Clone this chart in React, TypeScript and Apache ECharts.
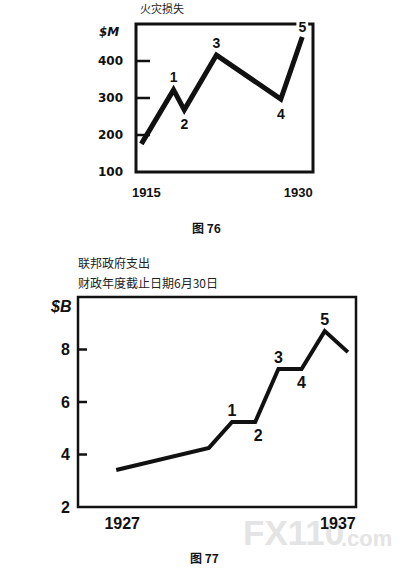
import React, { useEffect, useRef } from "react";
import * as echarts from "echarts";

// Chart 1: fire losses ($M)
const years1 = [1915, 1918, 1919, 1922, 1928, 1930];
const losses1 = [176, 322, 268, 416, 297, 465];
const waveLabels1 = ["", "1", "2", "3", "4", "5"];
const yLabelMax1 = 400;
const yInnerTicks1 = [200, 300, 400];
const xTicks1 = [1915, 1930];

// Chart 2: federal expenditures ($B)
const years2 = [1927, 1931, 1932, 1933, 1934, 1935, 1936, 1937];
const spend2 = [3.41, 4.25, 5.24, 5.24, 7.26, 7.26, 8.7, 7.9];
const waveLabels2 = ["", "", "1", "2", "3", "4", "5", ""];
const yLabelMax2 = 8;
const yInnerTicks2 = [4, 6, 8];
const xTicks2 = [1927, 1937];

const NUM_FONT = "Liberation Sans";
const CJK_FONT = "Noto Sans CJK SC";

const X1_MIN = 1914.5, X1_MAX = 1931;
const X2_MIN = 1925.35, X2_MAX = 1937.35;

function buildData(xs: number[], ys: number[], labels: string[], fontSize: number, chartNo: number) {
  return xs.map((x, i) => {
    const lab = labels[i];
    if (!lab) return { value: [x, ys[i]], label: { show: false } };
    const n = parseInt(lab, 10);
    const top = n % 2 === 1;
    const label: any = {
      show: true,
      formatter: lab,
      position: top ? "top" : "bottom",
      distance: top ? 5 : 7,
      fontSize,
      fontWeight: "bold",
      fontFamily: NUM_FONT,
      color: "#111",
      opacity: 1,
    };
    if (chartNo === 1 && n === 5) {
      label.backgroundColor = "#fff";
      label.padding = [0, 2, 0, 2];
      label.distance = 2;
    }
    if (chartNo === 2) {
      label.distance = top ? 3 : 5;
      if (n === 2) label.offset = [3, 0];
    }
    return { value: [x, ys[i]], label };
  });
}

const baseGraphic: any[] = [
  { type: "text", left: 140, top: 2, style: { text: "火灾损失", fontSize: 11, fontFamily: CJK_FONT, fill: "#222" } },
  { type: "text", left: 99, top: 26, style: { text: "$M", fontSize: 12, fontWeight: "bold", fontStyle: "italic", fontFamily: "DejaVu Sans", fill: "#111" } },
  { type: "text", left: 192, top: 221, style: { text: "图 76", fontSize: 12, fontWeight: "bold", fontFamily: CJK_FONT, fill: "#111" } },
  { type: "text", left: 78, top: 256, style: { text: "联邦政府支出", fontSize: 12, fontFamily: CJK_FONT, fill: "#222" } },
  { type: "text", left: 78, top: 276, style: { text: "财政年度截止日期6月30日", fontSize: 12, fontFamily: CJK_FONT, fill: "#222" } },
  { type: "text", left: 51, top: 298, style: { text: "$B", fontSize: 16, fontWeight: "bold", fontStyle: "italic", fontFamily: NUM_FONT, fill: "#111" } },
  { type: "text", left: 190, top: 551, style: { text: "图 77", fontSize: 12, fontWeight: "bold", fontFamily: CJK_FONT, fill: "#111" } },
  { type: "text", left: 243, top: 515, z: -1, style: { text: "FX110", fontSize: 35, fontWeight: 900, fontFamily: NUM_FONT, fill: "#e4e4e4" } },
  { type: "text", left: 341, top: 527, z: -1, style: { text: ".com", fontSize: 22, fontWeight: "bold", fontFamily: NUM_FONT, fill: "#e4e4e4" } },
];

export default function App() {
  const ref = useRef<HTMLDivElement>(null);
  useEffect(() => {
    if (!ref.current) return;
    const chart = echarts.init(ref.current, null, { renderer: "svg" });
    const option: any = {
      animation: false,
      backgroundColor: "#fff",
      grid: [
        { left: 136, top: 24, width: 177, height: 148, show: true, borderColor: "#111", borderWidth: 3, backgroundColor: "transparent" },
        { left: 78, top: 297, width: 278, height: 210, show: true, borderColor: "#111", borderWidth: 2.5, backgroundColor: "transparent" },
      ],
      xAxis: [
        {
          gridIndex: 0,
          type: "value",
          min: X1_MIN,
          max: X1_MAX,
          axisLine: { show: false },
          axisTick: { show: false },
          splitLine: { show: false },
          axisLabel: {
            customValues: xTicks1,
            margin: 14,
            formatter: (v: number) => (v === xTicks1[0] ? `{a|${v}}` : `{b|${v}}`),
            rich: {
              a: { fontSize: 13, fontWeight: "bold", fontFamily: NUM_FONT, color: "#111", padding: [0, 0, 0, 10] },
              b: { fontSize: 13, fontWeight: "bold", fontFamily: NUM_FONT, color: "#111", padding: [0, 8, 0, 0] },
            },
          },
        },
        {
          gridIndex: 1,
          type: "value",
          min: X2_MIN,
          max: X2_MAX,
          axisLine: { show: false },
          axisTick: { show: false },
          splitLine: { show: false },
          axisLabel: {
            customValues: xTicks2,
            margin: 8,
            formatter: (v: number) => (v === xTicks2[0] ? `{a|${v}}` : `{b|${v}}`),
            rich: {
              a: { fontSize: 16, fontWeight: "bold", fontFamily: NUM_FONT, color: "#111", padding: [0, 0, 0, 12] },
              b: { fontSize: 16, fontWeight: "bold", fontFamily: NUM_FONT, color: "#111", padding: [0, 20, 0, 0] },
            },
          },
        },
      ],
      yAxis: [
        {
          gridIndex: 0,
          type: "value",
          min: 100,
          max: 500,
          interval: 100,
          axisLine: { show: false },
          splitLine: { show: false },
          axisTick: { show: false },
          axisLabel: {
            show: true,
            margin: 13,
            fontSize: 12,
            fontWeight: "bold",
            fontFamily: "DejaVu Sans",
            color: "#111",
            formatter: (v: number) => (v > yLabelMax1 ? "" : String(v)),
          },
        },
        {
          gridIndex: 1,
          type: "value",
          min: 2,
          max: 10,
          interval: 2,
          axisLine: { show: false },
          splitLine: { show: false },
          axisTick: { show: false },
          axisLabel: {
            show: true,
            margin: 8,
            fontSize: 16,
            fontWeight: "bold",
            fontFamily: NUM_FONT,
            color: "#111",
            formatter: (v: number) => (v > yLabelMax2 ? "" : String(v)),
          },
        },
      ],
      series: [
        {
          type: "line",
          xAxisIndex: 0,
          yAxisIndex: 0,
          data: buildData(years1, losses1, waveLabels1, 14, 1),
          symbol: "circle",
          symbolSize: 1,
          showSymbol: true,
          itemStyle: { color: "transparent" },
          lineStyle: { color: "#111", width: 5, join: "miter" },
          z: 3,
        },
        {
          type: "line",
          xAxisIndex: 1,
          yAxisIndex: 1,
          data: buildData(years2, spend2, waveLabels2, 16, 2),
          symbol: "circle",
          symbolSize: 1,
          showSymbol: true,
          itemStyle: { color: "transparent" },
          lineStyle: { color: "#111", width: 4, join: "miter" },
          z: 3,
        },
      ],
      graphic: baseGraphic,
    };
    chart.setOption(option);

    // inner tick marks on the left edge, positioned through the axes' own scales
    const tickRects: any[] = [];
    const addTicks = (gridIndex: number, ticks: number[], xMin: number, lenPx: number) => {
      ticks.forEach((v) => {
        const p = chart.convertToPixel({ gridIndex } as any, [xMin, v]) as number[];
        if (!p) return;
        tickRects.push({
          type: "rect",
          z: 50,
          silent: true,
          shape: { x: p[0], y: p[1] - 1.25, width: lenPx, height: 2.5 },
          style: { fill: "#111" },
        });
      });
    };
    addTicks(0, yInnerTicks1, X1_MIN, 14);
    addTicks(1, yInnerTicks2, X2_MIN, 9);
    chart.setOption({ graphic: [...baseGraphic, ...tickRects] });

    return () => chart.dispose();
  }, []);
  return <div ref={ref} style={{ position: "absolute", left: 0, top: 0, width: 409, height: 572 }} />;
}
